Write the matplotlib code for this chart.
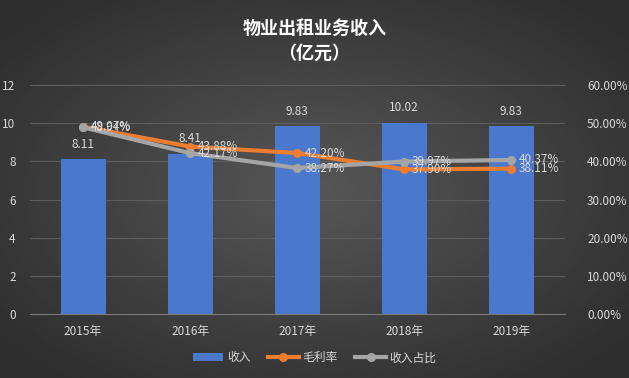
import numpy as np
import matplotlib
matplotlib.use("Agg")
import matplotlib.pyplot as plt

plt.rcParams['font.family'] = ['Noto Sans CJK SC', 'DejaVu Sans']

years = ["2015年", "2016年", "2017年", "2018年", "2019年"]
revenue = [8.11, 8.41, 9.83, 10.02, 9.83]
gross_margin = [49.07, 43.88, 42.20, 37.90, 38.11]
revenue_share = [48.94, 42.17, 38.27, 39.97, 40.37]

TXT = "#d9d9d9"
GRID = "#5e5e5e"
BLUE = "#4a78cc"
ORANGE = "#ed7d31"
GRAY = "#a5a5a5"

fig = plt.figure(figsize=(6.29, 3.78), dpi=100)

# radial dark gradient background
bg = fig.add_axes([0, 0, 1, 1])
yy, xx = np.mgrid[-1:1:200j, -1:1:300j]
r = np.sqrt(xx ** 2 + yy ** 2)
bg.imshow(0.34 - 0.16 * np.clip(r / 1.3, 0, 1), cmap="gray", vmin=0, vmax=1,
          aspect="auto", extent=[0, 1, 0, 1])
bg.set_axis_off()

ax = fig.add_axes([0.047, 0.169, 0.851, 0.606])
ax.patch.set_alpha(0)
x = np.arange(len(years))
bars = ax.bar(x, revenue, width=0.42, color=BLUE, zorder=2, label="收入")
ax.set_ylim(0, 12)
ax.set_yticks(range(0, 13, 2))
ax.set_xlim(-0.5, len(years) - 0.5)
ax.set_xticks(x, years)
ax.grid(axis="y", color=GRID, lw=0.8, zorder=0)
for s in ax.spines.values():
    s.set_visible(False)
ax.spines["bottom"].set_visible(True)
ax.spines["bottom"].set_color("#7a7a7a")
ax.tick_params(colors=TXT, labelsize=8.5, length=0)
ax.tick_params(axis="y", pad=10)
ax.tick_params(axis="x", pad=8)
for xi, v in zip(x, revenue):
    ax.text(xi, v + 0.45, f"{v:.2f}", ha="center", va="bottom", color=TXT, fontsize=8.5)

ax2 = ax.twinx()
ax2.set_ylim(0, 60)
ax2.set_yticks(range(0, 61, 10))
ax2.set_yticklabels([f"{t:.2f}%" for t in range(0, 61, 10)])
for s in ax2.spines.values():
    s.set_visible(False)
ax2.tick_params(colors=TXT, labelsize=8.5, length=0, pad=16)
l1, = ax2.plot(x, gross_margin, color=ORANGE, lw=3, marker="o", ms=5.5, zorder=3, label="毛利率")
l2, = ax2.plot(x, revenue_share, color=GRAY, lw=3, marker="o", ms=5.5, zorder=4, label="收入占比")
for xi, v in zip(x, gross_margin):
    ax2.text(xi + 0.07, v, f"{v:.2f}%", ha="left", va="center", color=TXT, fontsize=8.5, zorder=5)
for xi, v in zip(x, revenue_share):
    ax2.text(xi + 0.07, v, f"{v:.2f}%", ha="left", va="center", color=TXT, fontsize=8.5, zorder=5)

fig.text(0.5, 0.925, "物业出租业务收入", ha="center", va="center", color="white",
         fontsize=13, fontweight="bold")
fig.text(0.5, 0.86, "（亿元）", ha="center", va="center", color="white",
         fontsize=13, fontweight="bold")

leg = fig.legend(handles=[bars, l1, l2], loc="center", bbox_to_anchor=(0.5, 0.053),
                 ncol=3, frameon=False, fontsize=8.5, labelcolor=TXT,
                 handlelength=2.6, columnspacing=1.5, handletextpad=0.3)

fig.savefig("out.png", dpi=100)
